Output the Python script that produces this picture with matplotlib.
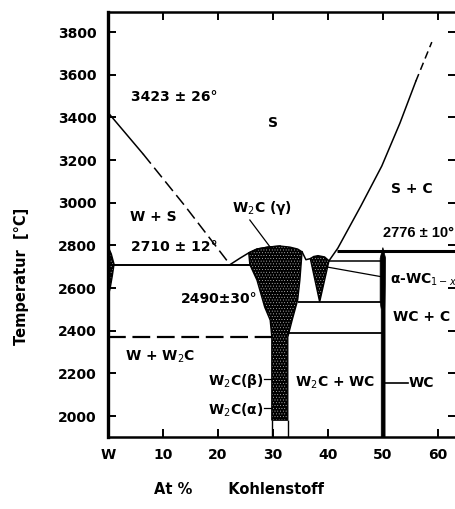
import matplotlib.pyplot as plt
from matplotlib.patches import Polygon

plt.rcParams['font.family'] = ['DejaVu Sans']
plt.rcParams['hatch.color'] = 'white'
plt.rcParams['hatch.linewidth'] = 0.2

# axes
x_ticks = [0, 10, 20, 30, 40, 50, 60]
x_labels = ['W', '10', '20', '30', '40', '50', '60']
y_ticks = [2000, 2200, 2400, 2600, 2800, 3000, 3200, 3400, 3600, 3800]

# liquidus, tungsten side (solid part, then dashed)
liq_w_x = [0, 6.4]
liq_w_t = [3423, 3228]
liq_w_dash_x = [6.4, 14.0, 22.2]
liq_w_dash_t = [3228, 2985, 2710]

# liquidus from eutectic up to W2C maximum
liq_w2c_x = [22.2, 24.0, 25.6, 27.1, 29.1, 31.3]
liq_w2c_t = [2710, 2740, 2765, 2783, 2792, 2797]

# liquidus between W2C and WC(1-x)
liq_mid_x = [35.3, 36.0, 36.8]
liq_mid_t = [2770, 2733, 2738]

# liquidus, carbon side
liq_c_x = [40.2, 41.8, 46.0, 49.8, 53.1, 56.0]
liq_c_t = [2728, 2787, 2985, 3172, 3373, 3570]
liq_c_dash_x = [56.0, 58.9]
liq_c_dash_t = [3570, 3753]

# W2C single phase field
w2c_x = [25.6, 27.1, 29.1, 31.3, 33.1, 34.5, 35.3, 34.9, 34.5, 33.5, 32.7, 32.7,
         29.8, 29.8, 29.5, 28.5, 27.1, 25.8]
w2c_t = [2765, 2783, 2792, 2797, 2792, 2783, 2770, 2637, 2544, 2450, 2370, 1981,
         1981, 2370, 2450, 2511, 2637, 2710]

# alpha-WC(1-x) field
wc1x_x = [36.8, 37.4, 38.2, 39.4, 40.2, 38.5]
wc1x_t = [2738, 2748, 2752, 2746, 2728, 2535]

# W solid solution
wss_x = [0, 0.6, 1.1, 0.8, 0.4, 0]
wss_t = [2795, 2760, 2712, 2660, 2600, 2560]

# WC line compound
wc_x = [50.0, 49.5, 49.5, 49.7, 49.7, 50.4, 50.4, 50.5]
wc_t = [2790, 2740, 2535, 2500, 1902, 1902, 2500, 2740]

# invariant / boundary lines: (x0, x1, T)
eut_w = (0, 25.8, 2710)
eut_c = (41.6, 63.3, 2776)
wc1x_top = (40.2, 50, 2725)
wc1x_eutectoid = (34.6, 50, 2535)
w2c_wc = (32.8, 50, 2389)
w_w2c = (0, 29.8, 2370)

fig = plt.figure(figsize=(4.56, 5.09), dpi=100)
ax = fig.add_axes([108 / 456, 1 - 437 / 509, 348 / 456, 425 / 509])
ax.set_xlim(0, 63.3)
ax.set_ylim(1902, 3894)

lw = 1.1
ax.plot(liq_w_x, liq_w_t, color='black', lw=lw)
ax.plot(liq_w_dash_x, liq_w_dash_t, color='black', lw=lw, ls=(0, (8, 3.5)))
ax.plot(liq_w2c_x, liq_w2c_t, color='black', lw=lw)
ax.plot(liq_mid_x, liq_mid_t, color='black', lw=lw)
ax.plot(liq_c_x, liq_c_t, color='black', lw=lw)
ax.plot(liq_c_dash_x, liq_c_dash_t, color='black', lw=lw, ls=(0, (5, 3)))

ax.hlines(eut_w[2], eut_w[0], eut_w[1], color='black', lw=1.4)
ax.hlines(eut_c[2], eut_c[0], eut_c[1], color='black', lw=2.2)
ax.hlines(wc1x_top[2], wc1x_top[0], wc1x_top[1], color='black', lw=lw)
ax.hlines(wc1x_eutectoid[2], wc1x_eutectoid[0], wc1x_eutectoid[1], color='black', lw=1.3)
ax.hlines(w2c_wc[2], w2c_wc[0], w2c_wc[1], color='black', lw=1.3)
ax.hlines(w_w2c[2], w_w2c[0], w_w2c[1], color='black', lw=1.6, ls=(0, (8, 3)))

# shaded single phase fields
for xs, ts in [(w2c_x, w2c_t), (wc1x_x, wc1x_t), (wss_x, wss_t)]:
    ax.add_patch(Polygon(list(zip(xs, ts)), closed=True, facecolor='black',
                         edgecolor='white', lw=0, hatch='......'))
    ax.add_patch(Polygon(list(zip(xs, ts)), closed=True, fill=False,
                         edgecolor='black', lw=1.0))
ax.add_patch(Polygon(list(zip(wc_x, wc_t)), closed=True, facecolor='black',
                     edgecolor='black', lw=0.5))

# W2C below the shaded part
ax.vlines([29.8, 32.7], 1902, 1981, color='black', lw=1.0)

# labels and pointers
fs = 10
tk = dict(color='black', fontsize=fs, fontweight='bold')
ax.text(4.2, 3495, '3423 ± 26°', ha='left', va='center', **tk)
ax.text(30.0, 3373, 'S', ha='center', va='center', **tk)
ax.text(4.0, 2933, 'W + S', ha='left', va='center', **tk)
ax.text(4.2, 2792, '2710 ± 12°', ha='left', va='center', **tk)
ax.text(28.0, 2975, 'W$_2$C (γ)', ha='center', va='center', **tk)
ax.plot([25.8, 29.5], [2919, 2792], color='black', lw=0.9)
ax.text(55.3, 3064, 'S + C', ha='center', va='center', **tk)
ax.text(50.0, 2858, '2776 ± 10°', ha='left', va='center', color='black',
        fontsize=10.5, fontweight='bold', family='Liberation Sans')
ax.text(20.2, 2548, '2490±30°', ha='center', va='center', **tk)
ax.text(51.3, 2637, 'α-WC$_{1-x}$', ha='left', va='center', **tk)
ax.plot([40.0, 50.0], [2698, 2652], color='black', lw=0.9)
ax.text(57.1, 2464, 'WC + C', ha='center', va='center', **tk)
ax.text(9.5, 2277, 'W + W$_2$C', ha='center', va='center', **tk)
ax.text(28.3, 2164, 'W$_2$C(β)', ha='right', va='center', **tk)
ax.plot([28.4, 29.8], [2172, 2172], color='black', lw=0.9)
ax.text(28.3, 2028, 'W$_2$C(α)', ha='right', va='center', **tk)
ax.plot([28.4, 29.8], [2040, 2040], color='black', lw=0.9)
ax.text(41.3, 2155, 'W$_2$C + WC', ha='center', va='center', **tk)
ax.plot([50.4, 54.5], [2155, 2155], color='black', lw=1.2)
ax.text(54.7, 2155, 'WC', ha='left', va='center', **tk)

ax.set_xticks(x_ticks)
ax.set_xticklabels(x_labels)
ax.set_yticks(y_ticks)
ax.tick_params(direction='in', length=6, width=1.4, top=True, right=True,
               labelsize=fs, pad=8)
for lab in ax.get_xticklabels() + ax.get_yticklabels():
    lab.set_fontweight('bold')
for side in ['left', 'bottom', 'top']:
    ax.spines[side].set_linewidth(1.8)
ax.spines['left'].set_linewidth(2.4)
ax.spines['right'].set_visible(False)

fig.text(22 / 456, 1 - 276 / 509, 'Temperatur  [°C]', rotation=90,
         ha='center', va='center', fontsize=10.5, fontweight='bold')
fig.text(239 / 456, 1 - 490 / 509, 'At %       Kohlenstoff', ha='center',
         va='center', fontsize=10.5, fontweight='bold')

fig.savefig('out.png', dpi=100)
